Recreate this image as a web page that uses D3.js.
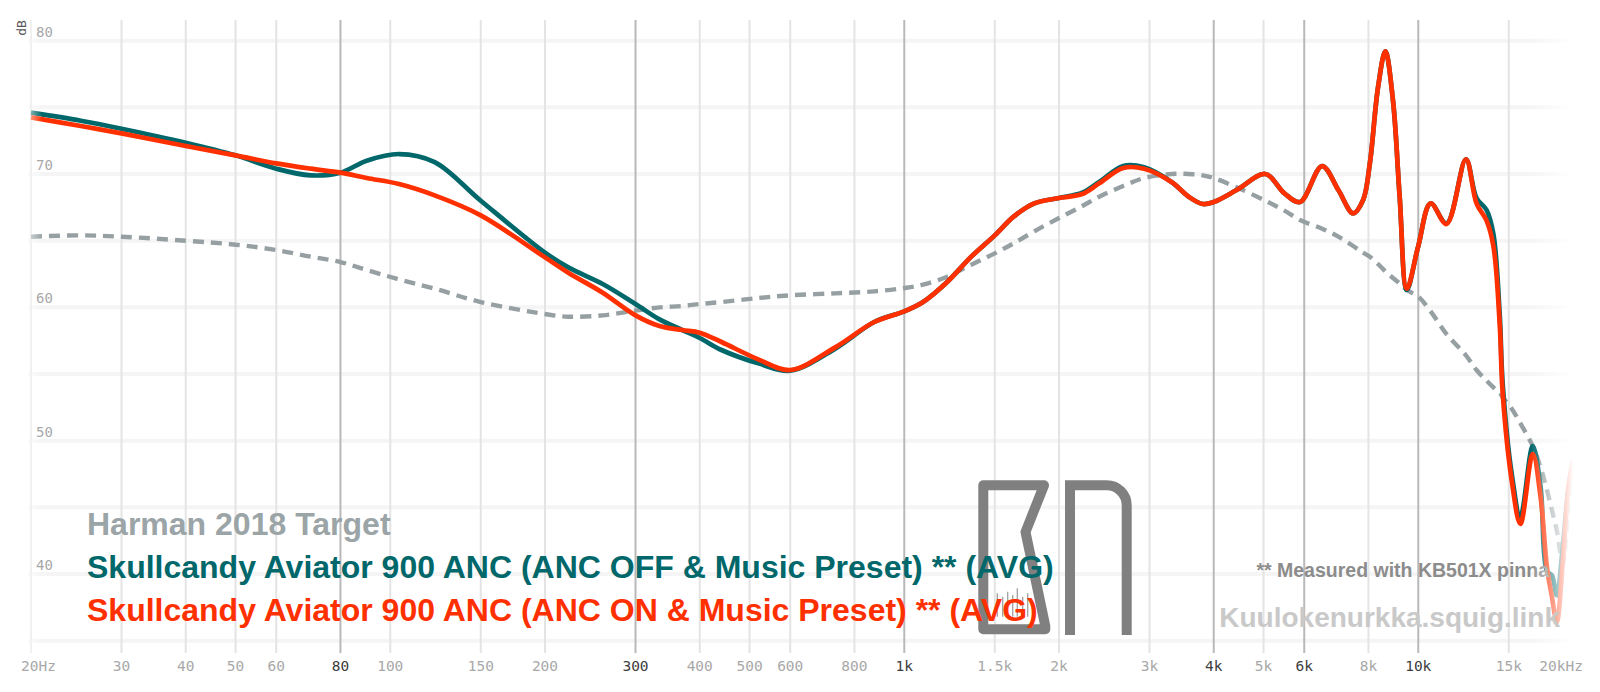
<!DOCTYPE html>
<html>
<head>
<meta charset="utf-8">
<script src="https://cdn.jsdelivr.net/npm/d3@7"></script>
<style>
  html, body { margin: 0; padding: 0; background: #fff; }
  svg { display: block; }
</style>
</head>
<body>
<div id="graph"></div>
<script>
// frequency points (Hz), shared by all three curves
var freqs = [20, 25, 30, 40, 50, 60, 70, 80, 90, 104,
  122, 150, 200, 222, 259, 300, 334, 370, 400, 441,
  520, 600, 734, 874, 1000, 1088, 1212, 1350, 1500, 1632,
  1790, 2000, 2220, 2395, 2666, 2928, 3311, 3575, 3808, 4000,
  4434, 5040, 5491, 5886, 6500, 6990, 7470, 7810, 8050, 8350,
  8628, 8930, 9200, 9500, 10000, 10570, 11350, 12380, 12980, 13580,
  14000, 14400, 14600, 15200, 15800, 16700, 17300, 17800, 18200, 18600,
  19100, 19600, 20000];

var harmanDb = [65.3, 65.4, 65.3, 65.0, 64.7, 64.3, 63.8, 63.4, 62.8, 62.1,
  61.4, 60.4, 59.5, 59.3, 59.4, 59.75, 60.0, 60.1, 60.25, 60.4,
  60.7, 60.9, 61.05, 61.2, 61.45, 61.7, 62.3, 63.2, 64.05, 64.8,
  65.7, 66.7, 67.6, 68.3, 69.1, 69.7, 70.0, 70.0, 69.9, 69.7,
  69.0, 68.0, 67.25, 66.55, 65.9, 65.3, 64.6, 64.1, 63.8, 63.25,
  62.7, 62.2, 61.8, 61.3, 60.8, 59.7, 58.0, 56.4, 55.3, 54.5,
  54.0, 53.6, 53.25, 52.4, 51.3, 49.6, 48.0, 46.3, 44.8, 43.3,
  40.8, 45, 48.5];

var ancOffDb = [74.6, 74.0, 73.4, 72.35, 71.4, 70.4, 69.9, 70.1, 71.0, 71.5,
  70.9, 68.0, 64.1, 63.0, 61.75, 60.25, 59.1, 58.3, 57.7, 56.8,
  55.8, 55.25, 56.9, 58.9, 59.7, 60.4, 61.9, 63.8, 65.4, 66.8,
  67.8, 68.2, 68.6, 69.4, 70.6, 70.5, 69.4, 68.3, 67.75, 67.9,
  68.8, 70.0, 68.55, 67.9, 70.6, 68.8, 67.05, 68.05, 70.8, 76.5,
  79.2, 75.5, 68.3, 61.3, 64.6, 67.8, 66.3, 71.1, 68.2, 67.3,
  65.5, 59.5, 54.2, 47.5, 44.3, 49.6, 46.5, 40.2, 39.9, 38.4,
  42, 46.5, 48.5];

var ancOnDb = [74.25, 73.6, 73.05, 72.1, 71.4, 70.8, 70.4, 70.1, 69.7, 69.25,
  68.4, 66.9, 63.75, 62.6, 61.1, 59.4, 58.6, 58.3, 58.1, 57.4,
  56.1, 55.3, 57.0, 58.9, 59.7, 60.4, 61.9, 63.8, 65.4, 66.8,
  67.8, 68.2, 68.5, 69.3, 70.45, 70.4, 69.4, 68.3, 67.75, 67.9,
  68.8, 70.0, 68.55, 67.9, 70.6, 68.8, 67.05, 68.05, 70.8, 76.5,
  79.2, 75.5, 68.3, 61.4, 64.6, 67.8, 66.25, 71.1, 67.8, 66.5,
  64.6, 58.8, 53.5, 47.0, 43.75, 49.0, 45.75, 40.5, 38.3, 36.4,
  40.75, 46.5, 48.5];

var xTicks = [20, 30, 40, 50, 60, 80, 100, 150, 200, 300, 400, 500, 600, 800,
  1000, 1500, 2000, 3000, 4000, 5000, 6000, 8000, 10000, 15000, 20000];
var xTickLabels = ["20Hz", "30", "40", "50", "60", "80", "100", "150", "200", "300", "400", "500", "600", "800",
  "1k", "1.5k", "2k", "3k", "4k", "5k", "6k", "8k", "10k", "15k", "20kHz"];
var darkTicks = [80, 300, 1000, 4000, 6000, 10000];
var yGrid = [35, 40, 45, 50, 55, 60, 65, 70, 75, 80];
var yLabels = [40, 50, 60, 70, 80];

var legendNames = ["Harman 2018 Target",
  "Skullcandy Aviator 900 ANC (ANC OFF & Music Preset) ** (AVG)",
  "Skullcandy Aviator 900 ANC (ANC ON & Music Preset) ** (AVG)"];
var legendColors = ["#9ba4a7", "#00676a", "#ff3000"];

var width = 1600, height = 692;

var x = d3.scaleLog().domain([20, 20000]).range([31, 1573]);
var y = d3.scaleLinear().domain([40, 80]).range([574, 40.7]);
var plotTop = 20, plotBottom = 653;

var svg = d3.select("#graph").append("svg")
  .attr("width", width)
  .attr("height", height);

var defs = svg.append("defs");
var fadeR = defs.append("linearGradient").attr("id", "fadeR");
fadeR.append("stop").attr("offset", "0%").attr("stop-color", "#fff").attr("stop-opacity", 0);
fadeR.append("stop").attr("offset", "62%").attr("stop-color", "#fff").attr("stop-opacity", 1);
fadeR.append("stop").attr("offset", "100%").attr("stop-color", "#fff").attr("stop-opacity", 1);
var fadeL = defs.append("linearGradient").attr("id", "fadeL");
fadeL.append("stop").attr("offset", "0%").attr("stop-color", "#fff").attr("stop-opacity", 1);
fadeL.append("stop").attr("offset", "45%").attr("stop-color", "#fff").attr("stop-opacity", 1);
fadeL.append("stop").attr("offset", "100%").attr("stop-color", "#fff").attr("stop-opacity", 0);

// horizontal grid
svg.append("g").selectAll("line")
  .data(yGrid).enter().append("line")
    .attr("x1", 28).attr("x2", 1572)
    .attr("y1", function(d){ return y(d); })
    .attr("y2", function(d){ return y(d); })
    .attr("stroke", "#f5f5f5")
    .attr("stroke-width", 4);

// vertical grid
svg.append("g").selectAll("line")
  .data(xTicks).enter().append("line")
    .attr("x1", function(d){ return x(d); })
    .attr("x2", function(d){ return x(d); })
    .attr("y1", plotTop).attr("y2", plotBottom)
    .attr("stroke", function(d){ return darkTicks.indexOf(d) >= 0 ? "#b9b9b9" : "#e4e4e4"; })
    .attr("stroke-width", 2);

// KN logo watermark
var logo = svg.append("g")
  .attr("transform", "translate(960,470)")
  .attr("fill", "none")
  .attr("stroke", "#808080");
logo.append("path")
  .attr("d", "M23.3,15.3 L84,15.3 L65.5,62 L85.3,156 L85.3,159.3 L23.3,159.3 Z")
  .attr("stroke-width", 10)
  .attr("stroke-linejoin", "round");
logo.append("path")
  .attr("d", "M110,165 L110,15.3 L146.7,15.3 A20,20 0 0 1 166.7,35.3 L166.7,165")
  .attr("stroke-width", 10);
var barX = [37.3, 42.7, 47.7, 52.7, 57.3, 62.7, 67.7];
var barTop = [123.3, 126.7, 121.7, 125, 118.3, 126.7, 123.3];
logo.selectAll(".bar").data(barX).enter().append("line")
  .attr("class", "bar")
  .attr("x1", function(d){ return d; }).attr("x2", function(d){ return d; })
  .attr("y1", function(d, i){ return barTop[i]; }).attr("y2", 146.7)
  .attr("stroke", "#a0a0a0")
  .attr("stroke-width", 1.3);

// curves
var line = d3.line()
  .x(function(d){ return x(d[0]); })
  .y(function(d){ return y(d[1]); })
  .curve(d3.curveCatmullRom.alpha(0.5));

function pairs(vals) {
  return freqs.map(function(f, i){ return [f, vals[i]]; });
}

svg.append("path")
  .attr("d", line(pairs(harmanDb)))
  .attr("fill", "none")
  .attr("stroke", "#96a0a3")
  .attr("stroke-width", 4.4)
  .attr("stroke-dasharray", "11 7");

svg.append("path")
  .attr("d", line(pairs(ancOffDb)))
  .attr("fill", "none")
  .attr("stroke", legendColors[1])
  .attr("stroke-width", 4.7);

svg.append("path")
  .attr("d", line(pairs(ancOnDb)))
  .attr("fill", "none")
  .attr("stroke", legendColors[2])
  .attr("stroke-width", 4.7);

svg.append("text")
  .attr("x", 1549).attr("y", 577)
  .attr("text-anchor", "end")
  .attr("font-family", "'Liberation Sans', Arial, sans-serif")
  .attr("font-weight", "bold")
  .attr("font-size", 19.5)
  .attr("fill", "#8c8c8c")
  .text("** Measured with KB501X pinna");

// edge fades
svg.append("rect")
  .attr("x", 1530).attr("y", 0).attr("width", 70).attr("height", 655)
  .attr("fill", "url(#fadeR)");
svg.append("rect")
  .attr("x", 0).attr("y", 0).attr("width", 42).attr("height", 655)
  .attr("fill", "url(#fadeL)");

svg.append("text")
  .attr("x", 1560).attr("y", 627)
  .attr("text-anchor", "end")
  .attr("font-family", "'Liberation Sans', Arial, sans-serif")
  .attr("font-weight", "bold")
  .attr("font-size", 28)
  .attr("fill", "#c9c9c9")
  .text("Kuulokenurkka.squig.link");

// y labels
svg.append("g").selectAll("text")
  .data(yLabels).enter().append("text")
    .attr("x", 36)
    .attr("y", function(d){ return y(d) - 4; })
    .attr("font-family", "'DejaVu Sans Mono', monospace")
    .attr("font-size", 14)
    .attr("fill", "#a8a8a8")
    .text(function(d){ return d; });

svg.append("text")
  .attr("transform", "translate(26,28) rotate(-90)")
  .attr("text-anchor", "middle")
  .attr("font-family", "'DejaVu Sans Mono', monospace")
  .attr("font-size", 13)
  .attr("fill", "#555")
  .text("dB");

// x labels
svg.append("g").selectAll("text")
  .data(xTicks).enter().append("text")
    .attr("x", function(d, i){
      if (i === 0) return x(d) - 10;
      if (i === xTicks.length - 1) return x(d) + 10;
      return x(d);
    })
    .attr("y", 671)
    .attr("text-anchor", function(d, i){
      if (i === 0) return "start";
      if (i === xTicks.length - 1) return "end";
      return "middle";
    })
    .attr("font-family", "'DejaVu Sans Mono', monospace")
    .attr("font-size", 14.5)
    .attr("fill", function(d){ return darkTicks.indexOf(d) >= 0 ? "#3c3c3c" : "#a8a8a8"; })
    .text(function(d, i){ return xTickLabels[i]; });

// legend
var legendY = [535, 578, 621];
svg.append("g").selectAll("text")
  .data(legendNames).enter().append("text")
    .attr("x", 87)
    .attr("y", function(d, i){ return legendY[i]; })
    .attr("font-family", "'Liberation Sans', Arial, sans-serif")
    .attr("font-weight", "bold")
    .attr("font-size", 32)
    .attr("fill", function(d, i){ return legendColors[i]; })
    .text(function(d){ return d; });
</script>
</body>
</html>
